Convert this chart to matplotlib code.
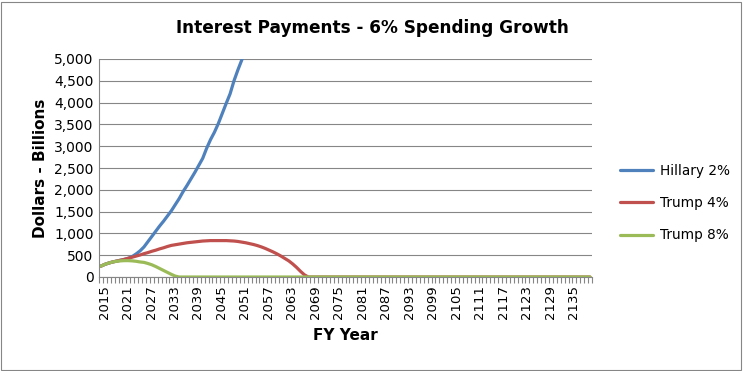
import numpy as np
import matplotlib.pyplot as plt
from matplotlib.patches import Rectangle
from matplotlib.ticker import FuncFormatter

# categories: fiscal years on the x axis
years = list(range(2015, 2141))

# interest payments, $ billions
hillary_2 = [250, 290, 320, 345, 365, 385, 405, 430, 470, 530,
             600, 690, 810, 930, 1050, 1170, 1280, 1400, 1520, 1660,
             1800, 1960, 2100, 2250, 2400, 2560, 2720, 2950, 3150, 3320,
             3520, 3750, 3980, 4200, 4500, 4750, 4980, 5250]
trump_4 = [250, 290, 320, 345, 365, 385, 405, 430, 455, 480,
           505, 535, 560, 590, 615, 645, 670, 700, 725, 740,
           755, 770, 785, 795, 805, 815, 825, 830, 835, 835,
           835, 835, 835, 830, 825, 815, 800, 785, 765, 745,
           720, 690, 655, 615, 575, 530, 480, 425, 370, 300,
           220, 130, 50, 0]
trump_8 = [250, 290, 320, 345, 360, 370, 375, 375, 370, 360,
           345, 335, 310, 280, 240, 195, 150, 105, 60, 20, 0]

# the two Trump series sit at zero for the rest of the range
trump_4 = trump_4 + [0] * (len(years) - len(trump_4))
trump_8 = trump_8 + [0] * (len(years) - len(trump_8))
hillary_2 = hillary_2 + [np.nan] * (len(years) - len(hillary_2))

series = [("Hillary 2%", hillary_2, "#4F81BD"),
          ("Trump 4%", trump_4, "#C0504D"),
          ("Trump 8%", trump_8, "#9BBB59")]

fig = plt.figure(figsize=(7.44, 3.71), dpi=100)
ax = fig.add_axes([99 / 744, 1 - 277 / 371, (592 - 99) / 744, (277 - 59) / 371])

x = np.arange(len(years))
for name, vals, col in series:
    ax.plot(x, vals, color=col, lw=2.3, label=name, solid_capstyle="round")

ax.set_xlim(-0.5, len(years) - 0.5)
ax.set_ylim(0, 5000)
ax.set_yticks(np.arange(0, 5001, 500))
ax.yaxis.set_major_formatter(FuncFormatter(lambda v, p: f"{int(v):,}"))
ax.grid(axis="y", color="#868686", lw=0.8)
ax.set_axisbelow(True)

ax.set_xticks(x[::6] + 0.8)
ax.set_xticklabels([str(y) for y in years[::6]], rotation=90)
ax.set_xticks(np.arange(-0.5, len(years), 1), minor=True)
ax.tick_params(axis="x", which="major", length=0, pad=6, labelsize=9.5)
ax.tick_params(axis="x", which="minor", length=4, color="#868686", width=0.8)
ax.tick_params(axis="y", length=0, pad=4, labelsize=10)

for s in ["top", "right"]:
    ax.spines[s].set_visible(False)
for s in ["left", "bottom"]:
    ax.spines[s].set_color("#868686")
    ax.spines[s].set_linewidth(0.8)

fig.text(0.5, 1 - 28 / 371, "Interest Payments - 6% Spending Growth", fontsize=12.2,
         fontweight="bold", ha="center", va="center")
ax.set_ylabel("Dollars - Billions", fontsize=11, fontweight="bold")
ax.set_xlabel("FY Year", fontsize=11, fontweight="bold", labelpad=6)

fig.legend(loc="center left", bbox_to_anchor=(608 / 744, 1 - 203 / 371),
           frameon=False, fontsize=9.8, handlelength=2.4, labelspacing=1.35,
           handletextpad=0.5)

fig.patches.append(Rectangle((0.002, 0.004), 0.994, 0.99, transform=fig.transFigure,
                             fill=False, edgecolor="#868686", lw=0.8))

fig.savefig("out.png", dpi=100)
